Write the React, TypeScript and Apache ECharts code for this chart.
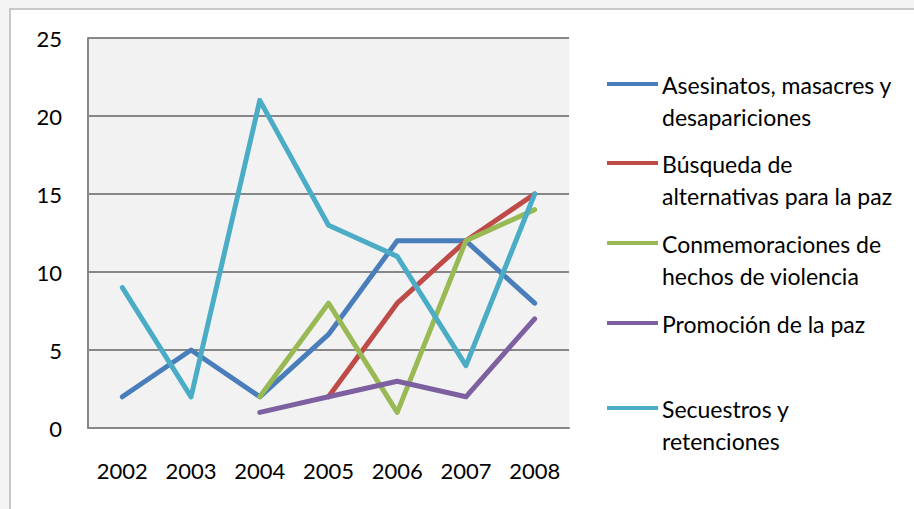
import React, { useEffect, useRef } from "react";
import * as echarts from "echarts";

const years = ["2002", "2003", "2004", "2005", "2006", "2007", "2008"];
const seriesNames = [
  "Asesinatos, masacres y desapariciones",
  "Búsqueda de alternativas para la paz",
  "Conmemoraciones de hechos de violencia",
  "Promoción de la paz",
  "Secuestros y retenciones",
];
const legendLabels = [
  "Asesinatos, masacres y\ndesapariciones",
  "Búsqueda de\nalternativas para la paz",
  "Conmemoraciones de\nhechos de violencia",
  "Promoción de la paz",
  "Secuestros y\nretenciones",
];
const asesinatos = [2, 5, 2, 6, 12, 12, 8];
const busqueda = [null, null, null, 2, 8, 12, 15];
const conmemoraciones = [null, null, 2, 8, 1, 12, 14];
const promocion = [null, null, 1, 2, 3, 2, 7];
const secuestros = [9, 2, 21, 13, 11, 4, 15];
const yTicks = [0, 5, 10, 15, 20, 25];

const colors = ["#4A7EBB", "#BE4B48", "#98B954", "#7D60A0", "#4BACC6"];
const allData = [asesinatos, busqueda, conmemoraciones, promocion, secuestros];
const legendY = [84, 163, 243, 323, 408];
const FONT = "Lato, 'Open Sans', sans-serif";

export default function App() {
  const ref = useRef<HTMLDivElement>(null);
  useEffect(() => {
    if (!ref.current) return;
    const chart = echarts.init(ref.current, null, { renderer: "svg" });
    const legendGraphics: any[] = [];
    seriesNames.forEach((n, i) => {
      legendGraphics.push({
        type: "line",
        z: 10,
        shape: { x1: 607, y1: legendY[i], x2: 658, y2: legendY[i] },
        style: { stroke: colors[i], lineWidth: 4 },
      });
      legendGraphics.push({
        type: "text",
        z: 10,
        x: 662,
        y: legendY[i] - 15,
        style: {
          text: legendLabels[i],
          fill: "#000",
          font: `23px ${FONT}`,
          verticalAlign: "top",
          align: "left",
          lineHeight: 32,
        },
      });
    });
    chart.setOption({
      animation: false,
      backgroundColor: "#f4f4f4",
      graphic: [
        {
          type: "rect",
          z: -10,
          silent: true,
          shape: { x: 10, y: 9, width: 920, height: 520 },
          style: { fill: "#ffffff", stroke: "#c8c8c8", lineWidth: 2 },
        },
        ...legendGraphics,
      ],
      grid: {
        left: 88,
        top: 38,
        right: 345,
        bottom: 81,
        show: true,
        backgroundColor: "#f2f2f2",
        borderWidth: 0,
      },
      xAxis: {
        type: "category",
        data: years,
        boundaryGap: true,
        axisLine: { lineStyle: { color: "#878787", width: 2 } },
        axisTick: { show: false },
        axisLabel: { color: "#000", fontSize: 22, fontFamily: FONT, margin: 31 },
        splitLine: { show: false },
      },
      yAxis: {
        type: "value",
        min: yTicks[0],
        max: yTicks[yTicks.length - 1],
        interval: 5,
        axisLine: { show: true, lineStyle: { color: "#878787", width: 2 } },
        axisTick: { show: false },
        axisLabel: { color: "#000", fontSize: 22, fontFamily: FONT, margin: 26 },
        splitLine: { show: true, lineStyle: { color: "#878787", width: 2 } },
      },
      series: seriesNames.map((n, i) => ({
        name: n,
        type: "line",
        data: allData[i],
        symbol: "none",
        connectNulls: false,
        lineStyle: { color: colors[i], width: 5, cap: "round", join: "round" },
        itemStyle: { color: colors[i] },
      })),
    });
    return () => chart.dispose();
  }, []);
  return (
    <div
      ref={ref}
      style={{ position: "absolute", left: 0, top: 0, width: 914, height: 509 }}
    />
  );
}
